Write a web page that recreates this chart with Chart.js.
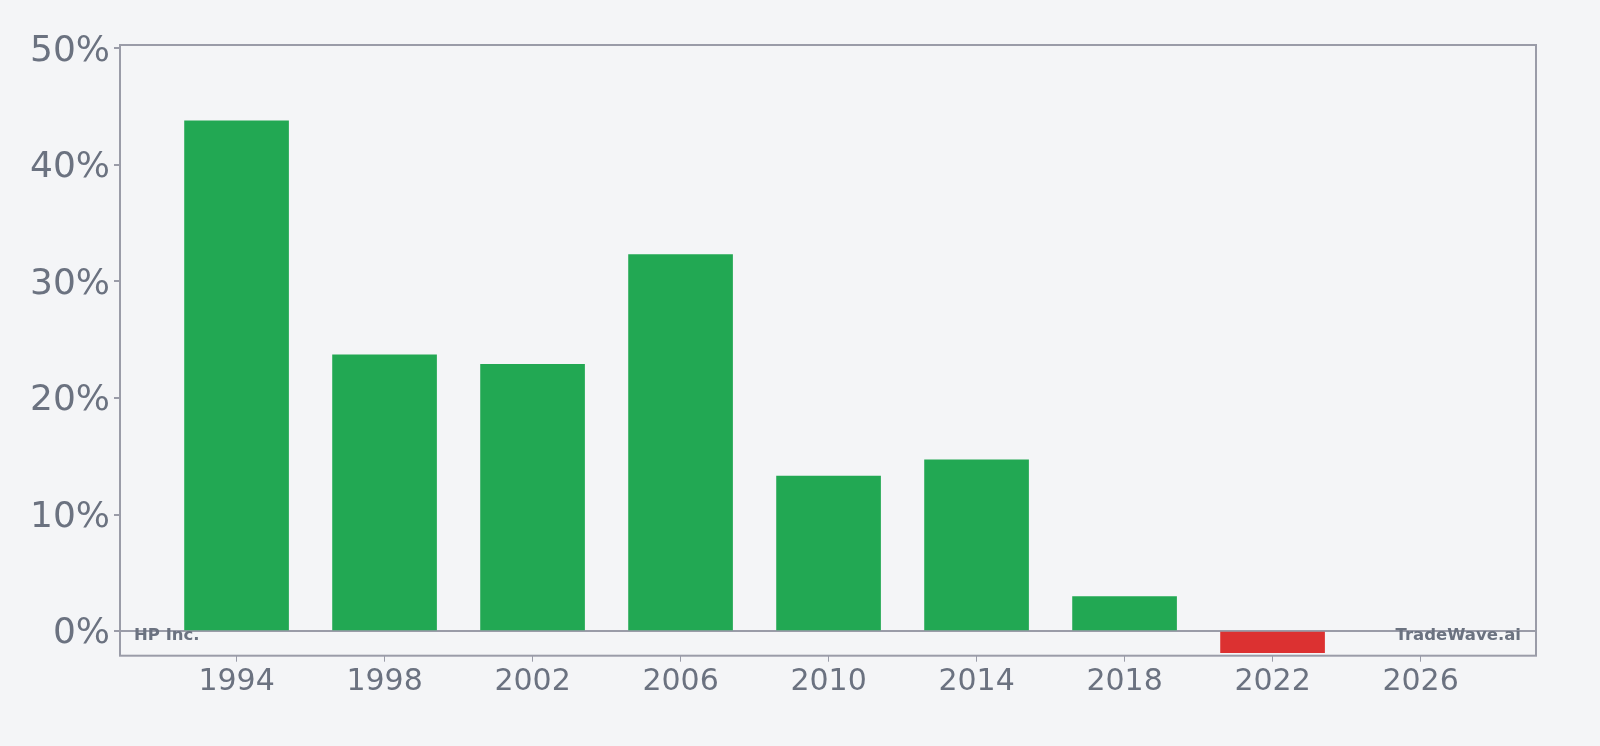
<!DOCTYPE html>
<html>
<head>
<meta charset="utf-8">
<script src="https://cdn.jsdelivr.net/npm/chart.js@4/dist/chart.umd.min.js"></script>
<style>
  html, body { margin: 0; padding: 0; background: #f4f5f7; }
  #wrap { width: 1600px; height: 746px; }
</style>
</head>
<body>
<div id="wrap"><canvas id="c" width="1600" height="746"></canvas></div>
<script>
const years = [1994, 1998, 2002, 2006, 2010, 2014, 2018, 2022];
const growthPct = [43.8, 23.7, 22.9, 32.3, 13.3, 14.7, 2.95, -1.86];
const xTickYears = [1994, 1998, 2002, 2006, 2010, 2014, 2018, 2022, 2026];
const yTickValues = [0, 10, 20, 30, 40, 50];
const leftLabel = "HP Inc.";
const rightLabel = "TradeWave.ai";

const GREEN = '#22a853';
const RED = '#dc3131';
const AXIS = '#9a9ca8';
const TEXT = '#6b7280';

const points = years.map((y, i) => ({ x: y, y: growthPct[i] }));

const framePlugin = {
  id: 'frame',
  beforeDraw(chart) {
    const ctx = chart.ctx;
    ctx.save();
    ctx.fillStyle = '#f4f5f7';
    ctx.fillRect(0, 0, chart.width, chart.height);
    ctx.restore();
  },
  afterDraw(chart) {
    const { ctx, chartArea: a } = chart;
    ctx.save();
    ctx.strokeStyle = AXIS;
    ctx.lineWidth = 2;
    ctx.strokeRect(a.left, a.top, a.right - a.left, a.bottom - a.top);
    const y0 = chart.scales.y.getPixelForValue(0);
    ctx.font = 'bold 16.5px "DejaVu Sans"';
    ctx.fillStyle = TEXT;
    ctx.textBaseline = 'middle';
    ctx.textAlign = 'left';
    ctx.fillText(leftLabel, a.left + 14, y0 + 5);
    ctx.textAlign = 'right';
    ctx.fillText(rightLabel, a.right - 15, y0 + 5);
    ctx.restore();
  }
};

new Chart(document.getElementById('c'), {
  type: 'bar',
  data: {
    datasets: [{
      data: points,
      backgroundColor: growthPct.map(v => v >= 0 ? GREEN : RED),
      barThickness: 104,
      borderWidth: 0
    }]
  },
  options: {
    responsive: false,
    animation: false,
    devicePixelRatio: 1,
    layout: { padding: { left: 0, right: 64, top: 45, bottom: 0 } },
    plugins: { legend: { display: false }, tooltip: { enabled: false } },
    scales: {
      x: {
        type: 'linear',
        min: 1990.85,
        max: 2029.12,
        offset: false,
        afterBuildTicks: s => { s.ticks = xTickYears.map(v => ({ value: v })); },
        afterFit: s => { s.height = 90.3; },
        border: { display: false },
        grid: { offset: false, drawOnChartArea: false, drawTicks: true, tickLength: 6, color: AXIS, tickColor: AXIS },
        ticks: {
          color: TEXT,
          font: { family: '"DejaVu Sans"', size: 30 },
          padding: 3,
          maxRotation: 0,
          autoSkip: false,
          callback: v => String(v)
        }
      },
      y: {
        min: -2.12,
        max: 50.3,
        afterBuildTicks: s => { s.ticks = yTickValues.map(v => ({ value: v })); },
        afterFit: s => { s.width = 120; },
        border: { display: false },
        grid: {
          drawOnChartArea: true,
          drawTicks: true,
          tickLength: 6,
          lineWidth: 2,
          color: c => (c.tick && c.tick.value === 0) ? AXIS : 'rgba(0,0,0,0)',
          tickColor: AXIS
        },
        ticks: {
          color: TEXT,
          font: { family: '"DejaVu Sans"', size: 36 },
          padding: 4,
          labelOffset: 3,
          callback: v => v + '%'
        }
      }
    }
  },
  plugins: [framePlugin]
});
</script>
</body>
</html>
